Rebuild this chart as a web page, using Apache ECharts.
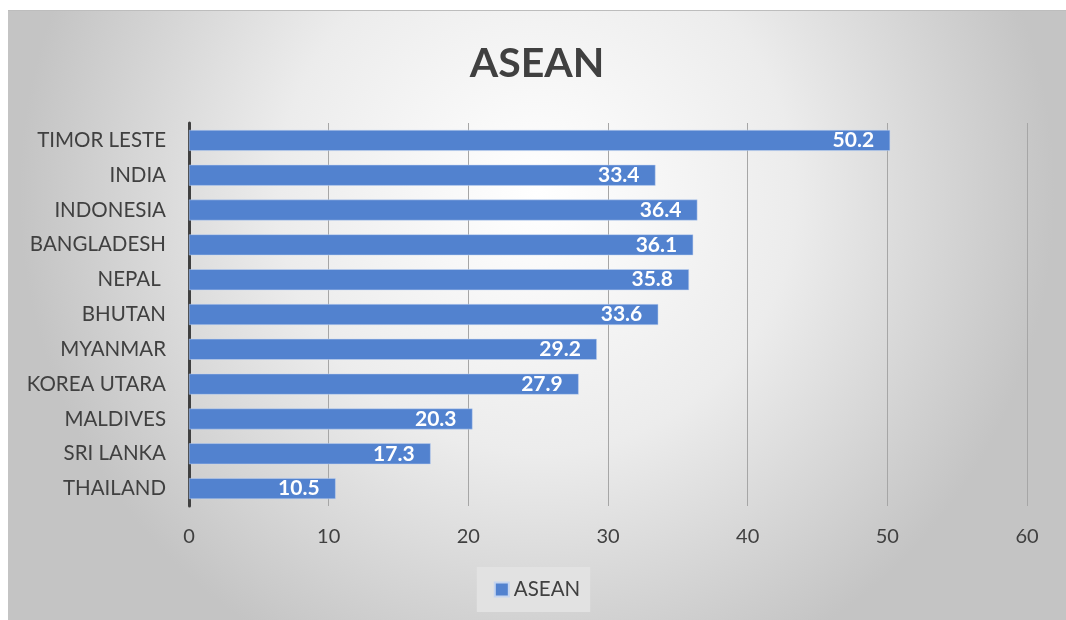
<!DOCTYPE html>
<html>
<head>
<meta charset="utf-8">
<script src="https://cdn.jsdelivr.net/npm/echarts@6/dist/echarts.min.js"></script>
<style>
html,body{margin:0;padding:0;background:#fff;width:1066px;height:620px;overflow:hidden;}
#chart{position:absolute;left:8px;top:10px;width:1058px;height:610px;border-top:1px solid #bdbdbd;box-sizing:border-box;}
</style>
</head>
<body>
<div id="chart"></div>
<script>
const categories = ["TIMOR LESTE","INDIA","INDONESIA","BANGLADESH","NEPAL ","BHUTAN","MYANMAR","KOREA UTARA","MALDIVES","SRI LANKA","THAILAND"];
const values = [50.2,33.4,36.4,36.1,35.8,33.6,29.2,27.9,20.3,17.3,10.5];
const seriesName = "ASEAN";
const xTicks = {min:0,max:60,interval:10};

const FONT = "Lato, 'Open Sans', sans-serif";
const chart = echarts.init(document.getElementById('chart'), null, {renderer:'canvas'});
chart.setOption({
  animation:false,
  backgroundColor:{type:'radial',x:0.5,y:0.3,r:0.85,colorStops:[{offset:0,color:'#ffffff'},{offset:0.5,color:'#ececec'},{offset:1,color:'#c4c4c4'}]},
  title:{text:'ASEAN',left:'center',top:27,textStyle:{fontFamily:FONT,fontSize:41,fontWeight:'bold',color:'#404040'}},
  grid:{left:181,right:39,top:112,bottom:114,containLabel:false},
  legend:{bottom:8,left:'center',data:[seriesName],itemWidth:14,itemHeight:14,itemGap:5,padding:[12,10,12,17],backgroundColor:'#e2e2e2',icon:'rect',
    textStyle:{fontFamily:FONT,fontSize:20.5,color:'#404040',padding:[2,0,0,0]}},
  xAxis:{type:'value',min:xTicks.min,max:xTicks.max,interval:xTicks.interval,
    axisLine:{show:false},axisTick:{show:false},
    splitLine:{show:true,lineStyle:{color:'#a6a6a6',width:1}},
    axisLabel:{margin:21,fontFamily:FONT,fontSize:20,color:'#404040'}},
  yAxis:{type:'category',data:categories,inverse:true,
    axisLine:{show:true,lineStyle:{color:'#404040',width:3}},axisTick:{show:false},
    axisLabel:{margin:23,fontFamily:FONT,fontSize:20.5,color:'#404040'}},
  series:[{name:seriesName,type:'bar',data:values,barWidth:'60%',
    itemStyle:{color:'#5282cf',borderColor:'#c5d5f0',borderWidth:0.5},
    label:{show:true,position:'insideRight',distance:16,fontFamily:FONT,fontSize:21,fontWeight:'bold',color:'#ffffff'}}]
});
</script>
</body>
</html>
